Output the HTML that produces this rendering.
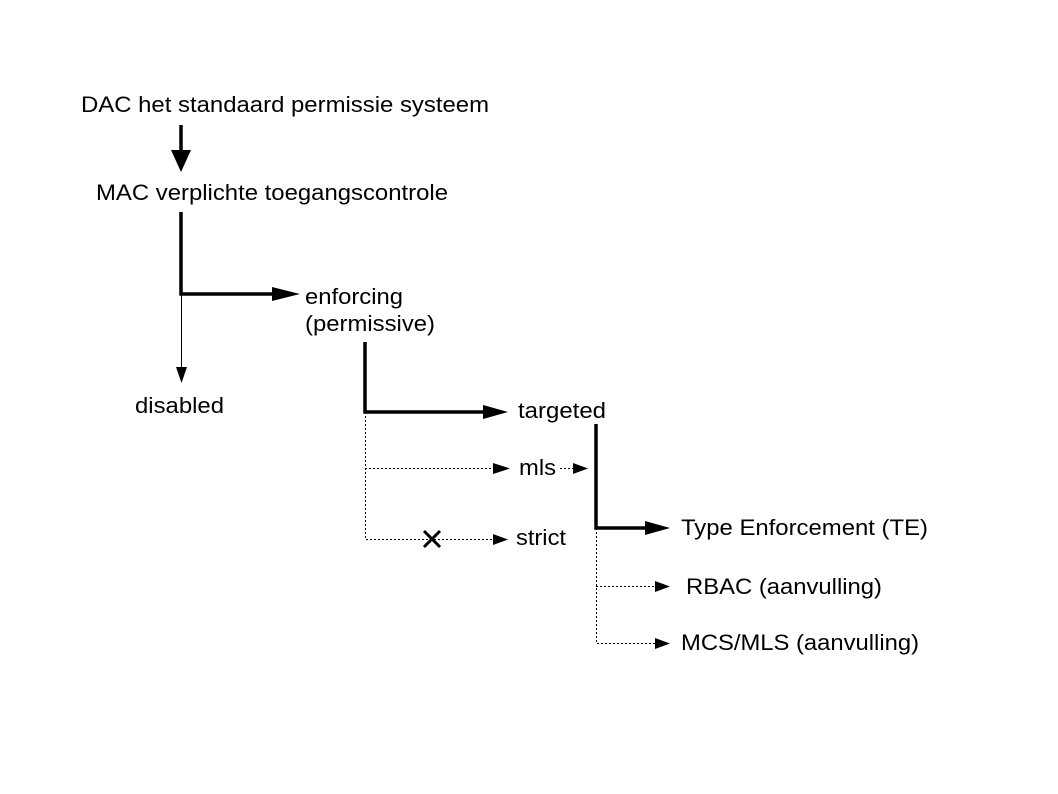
<!DOCTYPE html>
<html><head><meta charset="utf-8"><style>
html,body{margin:0;padding:0;background:#fff;}
svg{display:block;}
text{font-family:"Liberation Sans",sans-serif;font-size:22px;fill:#000;}
</style></head><body>
<svg width="1058" height="794" viewBox="0 0 1058 794" xmlns="http://www.w3.org/2000/svg">
<text x="81" y="112" textLength="408" lengthAdjust="spacingAndGlyphs">DAC het standaard permissie systeem</text>
<text x="96" y="200" textLength="352" lengthAdjust="spacingAndGlyphs">MAC verplichte toegangscontrole</text>
<text x="135" y="413" textLength="89" lengthAdjust="spacingAndGlyphs">disabled</text>
<text x="305" y="304" textLength="98" lengthAdjust="spacingAndGlyphs">enforcing</text>
<text x="305" y="331" textLength="130" lengthAdjust="spacingAndGlyphs">(permissive)</text>
<text x="518" y="418" textLength="88" lengthAdjust="spacingAndGlyphs">targeted</text>
<text x="519" y="475" textLength="37" lengthAdjust="spacingAndGlyphs">mls</text>
<text x="516" y="545" textLength="50" lengthAdjust="spacingAndGlyphs">strict</text>
<text x="681" y="535" textLength="247" lengthAdjust="spacingAndGlyphs">Type Enforcement (TE)</text>
<text x="686" y="594" textLength="196" lengthAdjust="spacingAndGlyphs">RBAC (aanvulling)</text>
<text x="681" y="650" textLength="238" lengthAdjust="spacingAndGlyphs">MCS/MLS (aanvulling)</text>

<g stroke="#000" fill="none">
<line x1="181" y1="125" x2="181" y2="152" stroke-width="3.5"/>
<polyline points="181,212 181,294 274,294" stroke-width="3.5"/>
<line x1="181.5" y1="294" x2="181.5" y2="368" stroke-width="1"/>
<polyline points="365,342 365,412 485,412" stroke-width="3.5"/>
<polyline points="596,424 596,528 648,528" stroke-width="3.5"/>
<g stroke-width="1" stroke-dasharray="2,2">
<polyline points="365.5,412 365.5,539.5 495,539.5"/>
<line x1="365" y1="468.5" x2="495" y2="468.5"/>
<line x1="560" y1="468.5" x2="575" y2="468.5"/>
<polyline points="596.5,528 596.5,643.5 657,643.5"/>
<line x1="596" y1="586.5" x2="657" y2="586.5"/>
</g>
<path d="M424,531 L440,547 M440,531 L424,547" stroke-width="3"/>
</g>
<g fill="#000">
<polygon points="171,150 191,150 181,172"/>
<polygon points="272,287 300,294 272,301"/>
<polygon points="176,367 187,367 181.5,383"/>
<polygon points="483,405 508,412 483,419"/>
<polygon points="493,463 510,468.5 493,474"/>
<polygon points="573,463 588,468.5 573,474"/>
<polygon points="493,534 508,539.5 493,545"/>
<polygon points="645,521 670,528 645,535"/>
<polygon points="655,581 670,586.5 655,592"/>
<polygon points="655,638 670,643.5 655,649"/>
</g>
</svg>
</body></html>
